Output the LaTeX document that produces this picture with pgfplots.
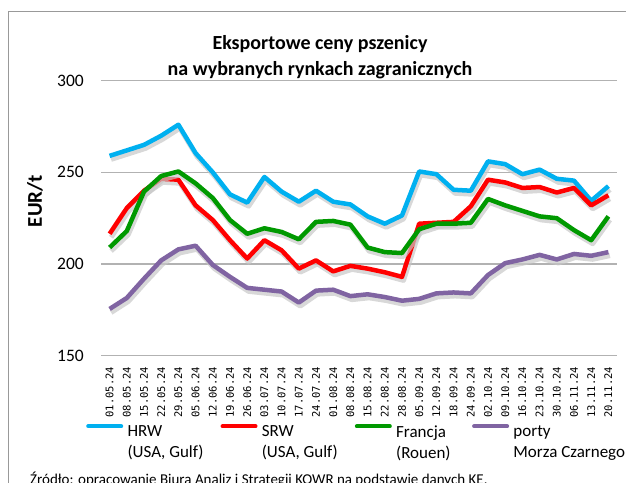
\documentclass[border=0pt]{standalone}
\usepackage{pgfplots}
\pgfplotsset{compat=1.18}
\usepackage{pgfplotstable}
\usepackage{fontspec}
\setmainfont{Carlito}
\newfontfamily\monofont{DejaVu Sans Mono}
\definecolor{hrw}{RGB}{0,176,240}
\definecolor{srw}{RGB}{255,0,0}
\definecolor{fra}{RGB}{0,153,0}
\definecolor{bsea}{RGB}{128,100,162}

\pgfplotstableread{
i hrw srw fr bs
0 259 216.5 209 175.5
1 262 230.5 218 181.5
2 265 240 239.5 192
3 270 246.5 248 202
4 276 246 250.5 208
5 260.5 232 244 210
6 250 224 236 199.5
7 238 213 224 193
8 233.5 203 216.5 187
9 247.5 213 219.5 186
10 239.5 207.5 217.5 185
11 234 197.5 213.5 179
12 240 202 223 185.5
13 234 196 223.5 186
14 232.5 199 221.5 182.5
15 226 197.5 209 183.5
16 222 195.5 206.5 182
17 226.5 193 206 180
18 250.5 222 219 181
19 249 222.5 222 184
20 240.5 223 222 184.5
21 240 231.5 222.5 184
22 256 246 235.5 194
23 254.5 244.5 232 200.5
24 249 241.5 229 202.5
25 251.5 242 226 205
26 246.5 239 225 202.5
27 245.5 241.5 218.5 205.5
28 234.5 232 213 204.5
29 242.5 237.5 226 206.5
}\prices

\begin{document}
\begin{tikzpicture}[x=1pt,y=1pt]
\useasboundingbox (0,0) rectangle (626,-482);
\draw[black!40, line width=1pt] (8,-500) -- (8,-11.5) -- (660,-11.5);
\begin{axis}[
  at={(101pt,-355.7pt)}, anchor=south west,
  scale only axis, width=516pt, height=275pt,
  xmin=-0.5, xmax=29.5, ymin=150, ymax=300,
  ytick={150,200,250,300},
  xtick={0,...,29},
  xticklabels={01.05.24,08.05.24,15.05.24,22.05.24,29.05.24,05.06.24,12.06.24,19.06.24,26.06.24,03.07.24,10.07.24,17.07.24,24.07.24,01.08.24,08.08.24,15.08.24,22.08.24,28.08.24,05.09.24,12.09.24,18.09.24,24.09.24,02.10.24,09.10.24,16.10.24,23.10.24,30.10.24,06.11.24,13.11.24,20.11.24},
  axis line style={draw=none},
  major tick length=0pt,
  ymajorgrids, grid style={black!30, line width=1.2pt},
  /pgf/number format/assume math mode=true,
  yticklabel style={font=\fontsize{17.5}{20}\selectfont, inner sep=0pt},
  yticklabel shift=17pt,
  xticklabel style={font=\fontsize{10.5}{12}\selectfont\monofont, rotate=90, anchor=east, inner sep=0pt},
  xticklabel shift=11pt,
  ylabel={EUR/t},
  ylabel style={font=\bfseries\fontsize{21}{24}\selectfont, at={(axis description cs:-0.128,0.5625)}, anchor=center},
  title={Eksportowe ceny pszenicy\\na wybranych rynkach zagranicznych},
  title style={font=\bfseries\fontsize{20}{26}\selectfont, align=center, at={(axis description cs:0.4244,0.985)}, anchor=south, inner sep=0pt},
  clip=false,
  legend columns=4,
  legend cell align=left,
  legend style={at={(axis description cs:-0.029,-0.2487)}, anchor=north west, draw=none, fill=none, inner sep=0pt,
    font=\fontsize{17}{21}\selectfont,
    nodes={inner sep=0pt},
    /tikz/every odd column/.style={column sep=4.3pt}},
  legend image code/.code={\draw[#1, line width=4pt, line cap=round] (0pt,5.8pt) -- (33pt,5.8pt);},
  shadow/.style={draw=black!22, line width=5pt, line join=round, opacity=0.7, transform canvas={xshift=1.5pt, yshift=-3.5pt}},
  series/.style={line width=4.5pt, line join=round},
]
\addplot[shadow, forget plot] table[x=i, y=hrw] {\prices};
\addplot[series, hrw] table[x=i, y=hrw] {\prices};
\addlegendentry{\parbox[t]{93pt}{HRW\\(USA, Gulf)}}
\addplot[shadow, forget plot] table[x=i, y=srw] {\prices};
\addplot[series, srw] table[x=i, y=srw] {\prices};
\addlegendentry{\parbox[t]{93pt}{SRW\\(USA, Gulf)}}
\addplot[shadow, forget plot] table[x=i, y=fr] {\prices};
\addplot[series, fra] table[x=i, y=fr] {\prices};
\addlegendentry{\parbox[t]{76pt}{Francja\\(Rouen)}}
\addplot[shadow, forget plot] table[x=i, y=bs] {\prices};
\addplot[series, bsea] table[x=i, y=bs] {\prices};
\addlegendentry{\parbox[t]{120pt}{porty\\Morza Czarnego}}
\end{axis}
\node[anchor=base west, font=\fontsize{15}{17}\selectfont, inner sep=0pt] at (30,-484) {Źródło: opracowanie Biura Analiz i Strategii KOWR na podstawie danych KE.};
\end{tikzpicture}
\end{document}
